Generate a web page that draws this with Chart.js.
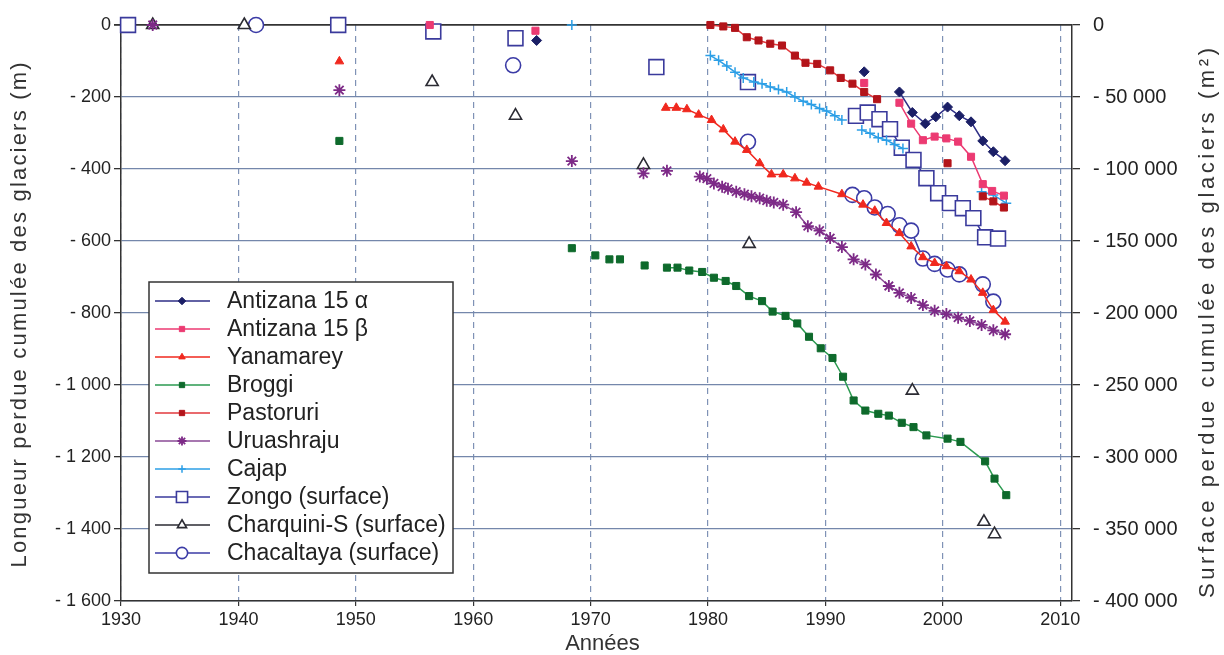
<!DOCTYPE html>
<html>
<head>
<meta charset="utf-8">
<script src="https://cdn.jsdelivr.net/npm/chart.js@4.4.1/dist/chart.umd.min.js"></script>
<style>
  html, body { margin: 0; padding: 0; background: #fff; }
  canvas { display: block; }
</style>
</head>
<body>
<canvas id="glaciers" width="1224" height="655"></canvas>
<script>
// Valeurs. null = interruption de la ligne.
// Longueurs en m (axe gauche), surfaces en m2 (axe droit)
const antizanaAYears = [1965.4, 1965.4, 1993.3, 1993.3, 1996.3, 1997.4, 1998.5, 1999.4, 2000.4, 2001.4, 2002.4, 2003.4, 2004.3, 2005.3];
const antizanaAVals  = [-43, null, -130, null, -186, -243, -274, -255, -228, -252, -269, -322, -352, -377];

const antizanaBYears = [1956.3, 1956.3, 1965.3, 1965.3, 1993.3, 1993.3, 1996.3, 1997.3, 1998.3, 1999.3, 2000.3, 2001.3, 2002.4, 2003.4, 2004.2, 2005.2];
const antizanaBVals  = [0, null, -16, null, -161, null, -216, -274, -320, -310, -315, -324, -366, -442, -461, -474];

const yanamareyYears = [1948.6, 1948.6, 1976.4, 1977.3, 1978.2, 1979.2, 1980.3, 1981.3, 1982.3, 1983.3, 1984.4, 1985.4, 1986.4, 1987.4, 1988.4, 1989.4, 1991.4, 1993.2, 1994.2, 1995.2, 1996.3, 1997.3, 1998.3, 1999.3, 2000.3, 2001.4, 2002.4, 2003.4, 2004.3, 2005.3];
const yanamareyVals  = [-101, null, -230, -230, -234, -249, -264, -290, -324, -347, -384, -415, -415, -426, -438, -449, -470, -499, -516, -550, -578, -615, -645, -661, -670, -684, -707, -744, -792, -824];

const broggiYears = [1948.6, 1948.6, 1968.4, 1968.4, 1970.4, 1970.4, 1971.6, 1971.6, 1972.5, 1972.5, 1974.6, 1974.6, 1976.5, 1977.4, 1978.4, 1979.5, 1980.5, 1981.5, 1982.4, 1983.5, 1984.6, 1985.5, 1986.6, 1987.6, 1988.6, 1989.6, 1990.6, 1991.5, 1992.4, 1993.4, 1994.5, 1995.4, 1996.5, 1997.5, 1998.6, 2000.4, 2001.5, 2003.6, 2004.4, 2005.4];
const broggiVals  = [-322, null, -620, null, -640, null, -651, null, -651, null, -668, null, -674, -674, -682, -686, -702, -711, -725, -753, -767, -796, -808, -829, -866, -898, -925, -977, -1043, -1071, -1080, -1085, -1105, -1117, -1140, -1149, -1158, -1212, -1260, -1306];

const pastoruriYears = [1980.2, 1981.3, 1982.3, 1983.3, 1984.3, 1985.3, 1986.3, 1987.4, 1988.3, 1989.3, 1990.4, 1991.3, 1992.3, 1993.3, 1994.4, 1994.4, 2000.4, 2000.4, 2003.4, 2004.3, 2005.2];
const pastoruriVals  = [0, -4, -8, -34, -43, -52, -57, -85, -105, -108, -126, -147, -163, -186, -206, null, -384, null, -476, -490, -507];

const uruashrajuYears = [1932.7, 1932.7, 1948.6, 1948.6, 1968.4, 1968.4, 1974.5, 1974.5, 1976.5, 1976.5, 1979.3, 1979.9, 1980.5, 1981.2, 1981.7, 1982.4, 1983.1, 1983.7, 1984.4, 1985.0, 1985.6, 1986.4, 1987.5, 1988.5, 1989.5, 1990.4, 1991.4, 1992.4, 1993.4, 1994.3, 1995.4, 1996.3, 1997.3, 1998.3, 1999.3, 2000.3, 2001.3, 2002.3, 2003.3, 2004.3, 2005.3];
const uruashrajuVals  = [0, null, -181, null, -378, null, -412, null, -405, null, -421, -427, -440, -449, -455, -463, -470, -476, -481, -488, -493, -499, -520, -559, -571, -592, -617, -651, -665, -693, -725, -744, -758, -778, -794, -803, -813, -822, -833, -848, -859];

const cajapYears = [1968.4, 1968.4, 1980.2, 1980.9, 1981.6, 1982.3, 1983.0, 1983.9, 1984.6, 1985.3, 1986.0, 1986.7, 1987.4, 1988.1, 1988.8, 1989.5, 1990.1, 1990.8, 1991.4, 1991.4, 1993.1, 1993.8, 1994.5, 1995.2, 1995.9, 1996.6, 1996.6, 2003.3, 2004.3, 2005.4];
const cajapVals  = [0, null, -85, -98, -114, -131, -147, -158, -163, -172, -179, -186, -200, -212, -221, -232, -239, -252, -264, null, -292, -301, -313, -320, -332, -343, null, -463, -472, -495];

const zongoYears = [1930.6, 1930.6, 1948.5, 1948.5, 1956.6, 1956.6, 1963.6, 1963.6, 1975.6, 1975.6, 1983.4, 1983.4, 1992.6, 1993.6, 1994.6, 1995.5, 1996.5, 1997.5, 1998.6, 1999.6, 2000.6, 2001.7, 2002.6, 2003.6, 2004.7];
const zongoVals  = [0, null, 0, null, -4500, null, -9200, null, -29200, null, -39600, null, -63100, -60800, -65400, -72300, -85200, -93700, -106400, -116800, -123700, -127200, -134100, -147400, -148300];

const charquiniYears = [1932.7, 1940.5, 1956.5, 1963.6, 1974.5, 1983.5, 1997.4, 2003.5, 2004.4];
const charquiniVals  = [0, 0, -39600, -63000, -97200, -152000, -253900, -345000, -353600];

const chacaltayaYears = [1941.5, 1941.5, 1963.4, 1963.4, 1983.4, 1983.4, 1992.3, 1993.3, 1994.2, 1995.3, 1996.3, 1997.3, 1998.3, 1999.3, 2000.4, 2001.4, 2003.4, 2004.3];
const chacaltayaVals  = [0, null, -28000, null, -81100, null, -118000, -120300, -126700, -131300, -139100, -142800, -162200, -165900, -169800, -173200, -180100, -192100];

const xTicks = [1930, 1940, 1950, 1960, 1970, 1980, 1990, 2000, 2010];

const FONT = "'Liberation Sans', Arial, sans-serif";

function pts(years, vals) {
    return years.map((x, i) => ({ x: x, y: vals[i] }));
}

function fmtNeg(v) {
    if (v === 0) return '0';
    const s = Math.abs(v).toString().replace(/\B(?=(\d{3})+(?!\d))/g, ' ');
    return '- ' + s;
}

function serie(label, years, vals, color, style, radius, opts) {
    return Object.assign({
        label: label,
        data: pts(years, vals),
        borderColor: color,
        backgroundColor: color,
        borderWidth: 1.5,
        pointStyle: style,
        pointRadius: radius,
        pointBackgroundColor: color,
        pointBorderColor: color,
        pointBorderWidth: 1,
        spanGaps: false,
        clip: false,
        yAxisID: 'y'
    }, opts || {});
}

const datasets = [
    serie('Antizana 15 \u03B1', antizanaAYears, antizanaAVals, '#1b1f66', 'rectRot', 5, { borderColor: '#2e2e86' }),
    serie('Antizana 15 \u03B2', antizanaBYears, antizanaBVals, '#ec3a72', 'rect', 5),
    serie('Yanamarey', yanamareyYears, yanamareyVals, '#f0281e', 'triangle', 5),
    serie('Broggi', broggiYears, broggiVals, '#0e6a2c', 'rect', 5, { borderColor: '#2b9a50' }),
    serie('Pastoruri', pastoruriYears, pastoruriVals, '#b3141a', 'rect', 5, { borderColor: '#e2383c' }),
    serie('Uruashraju', uruashrajuYears, uruashrajuVals, '#7d2a87', 'star', 6, { pointBorderWidth: 1.8, borderColor: '#8a4a96' }),
    serie('Cajap', cajapYears, cajapVals, '#2c9fe6', 'cross', 5, { pointBorderWidth: 1.5 }),
    serie('Zongo (surface)', zongoYears, zongoVals, '#3a3a9c', 'rect', 10.5, { pointBackgroundColor: '#fff', pointBorderWidth: 1.6, yAxisID: 'y2' }),
    serie('Charquini-S (surface)', charquiniYears, charquiniVals, '#2b2b33', 'triangle', 7, { pointBackgroundColor: '#fff', pointBorderWidth: 1.6, showLine: false, yAxisID: 'y2' }),
    serie('Chacaltaya (surface)', chacaltayaYears, chacaltayaVals, '#3b3ba6', 'circle', 7.5, { pointBackgroundColor: '#fff', pointBorderWidth: 1.6, yAxisID: 'y2' })
];

// titre centre, lettres espacees pour occuper la longueur voulue
function spacedTitle(ctx, text, x, y, rot, size, span) {
    ctx.save();
    ctx.translate(x, y);
    ctx.rotate(rot);
    ctx.font = size + 'px ' + FONT;
    ctx.letterSpacing = '0px';
    const w0 = ctx.measureText(text).width;
    const ls = span ? Math.max(0, (span - w0) / (text.length - 1)) : 0;
    ctx.letterSpacing = ls + 'px';
    ctx.fillStyle = '#333';
    ctx.textAlign = 'center';
    ctx.textBaseline = 'middle';
    ctx.fillText(text, ls / 2, 0);
    ctx.restore();
}

// legende encadree dans la zone du graphique, en bas a gauche
const legendBox = {
    id: 'legendBox',
    afterDatasetsDraw(chart) {
        const ctx = chart.ctx;
        const area = chart.chartArea;
        const rowH = 28;
        const n = chart.data.datasets.length;
        const w = 304;
        const h = n * rowH + 11;
        const left = area.left + 28;
        const top = area.bottom - 28 - h;

        ctx.save();
        ctx.fillStyle = '#fff';
        ctx.fillRect(left, top, w, h);
        ctx.lineWidth = 1.5;
        ctx.strokeStyle = '#333';
        ctx.strokeRect(left, top, w, h);

        chart.data.datasets.forEach((ds, i) => {
            const y = top + 19 + i * rowH;
            ctx.beginPath();
            ctx.lineWidth = 1.5;
            ctx.strokeStyle = ds.borderColor;
            ctx.moveTo(left + 6, y);
            ctx.lineTo(left + 61, y);
            ctx.stroke();

            ctx.fillStyle = ds.pointBackgroundColor;
            ctx.strokeStyle = ds.pointBorderColor;
            ctx.lineWidth = ds.pointBorderWidth;
            Chart.helpers.drawPoint(ctx, {
                pointStyle: ds.pointStyle,
                radius: ds.pointRadius * 0.75,
                rotation: 0,
                borderWidth: ds.pointBorderWidth
            }, left + 33, y);

            ctx.fillStyle = '#222';
            ctx.font = '23px ' + FONT;
            ctx.textBaseline = 'middle';
            ctx.textAlign = 'left';
            ctx.fillText(ds.label, left + 78, y + 1);
        });
        ctx.restore();
    },
    afterDraw(chart) {
        const ctx = chart.ctx;
        const area = chart.chartArea;
        const midY = (area.top + area.bottom) / 2;
        spacedTitle(ctx, 'Longueur perdue cumul\u00e9e des glaciers (m)', 20, midY + 2, -Math.PI / 2, 22, 505);
        spacedTitle(ctx, 'Surface perdue cumul\u00e9e des glaciers (m\u00b2)', chart.width - 16, midY + 10, -Math.PI / 2, 22, 550);
        spacedTitle(ctx, 'Ann\u00e9es', (area.left + area.right) / 2 + 6, chart.height - 11, 0, 22, 0);
    }
};

new Chart(document.getElementById('glaciers').getContext('2d'), {
    type: 'line',
    data: { datasets: datasets },
    plugins: [legendBox],
    options: {
        responsive: false,
        devicePixelRatio: 1,
        animation: false,
        layout: { padding: { top: 23, left: 0, right: 0, bottom: 0 } },
        plugins: {
            legend: { display: false },
            tooltip: { enabled: false }
        },
        scales: {
            x: {
                type: 'linear',
                min: 1930,
                max: 2011,
                afterBuildTicks: (scale) => { scale.ticks = xTicks.map(v => ({ value: v })); },
                afterFit: (scale) => { scale.height = 54; },
                grid: {
                    color: '#7f92b6',
                    lineWidth: 1.2,
                    tickLength: 5,
                    tickColor: '#333'
                },
                border: { display: true, color: '#333', width: 1.5, dash: [6, 5] },
                ticks: {
                    color: '#222',
                    padding: 3,
                    maxRotation: 0,
                    font: { family: FONT, size: 18 },
                    callback: (v) => String(v)
                }
            },
            y: {
                position: 'left',
                min: -1600,
                max: 0,
                afterFit: (scale) => { scale.width = 121; },
                grid: {
                    color: (c) => (c.tick && c.tick.value === 0 ? '#333' : '#7487ab'),
                    lineWidth: (c) => (c.tick && c.tick.value === 0 ? 1.8 : 1.3),
                    tickLength: 7,
                    tickColor: '#333'
                },
                border: { display: true, color: '#333', width: 1.5 },
                ticks: {
                    stepSize: 200,
                    color: '#222',
                    padding: 3,
                    font: { family: FONT, size: 18 },
                    callback: (v) => fmtNeg(v)
                }
            },
            y2: {
                position: 'right',
                min: -400000,
                max: 0,
                afterFit: (scale) => { scale.width = 152; },
                grid: {
                    drawOnChartArea: false,
                    tickLength: 8,
                    tickColor: '#333',
                    lineWidth: 1.3
                },
                border: { display: true, color: '#333', width: 1.5 },
                ticks: {
                    stepSize: 50000,
                    color: '#222',
                    padding: 13,
                    font: { family: FONT, size: 20 },
                    callback: (v) => fmtNeg(v)
                }
            }
        }
    }
});
</script>
</body>
</html>
